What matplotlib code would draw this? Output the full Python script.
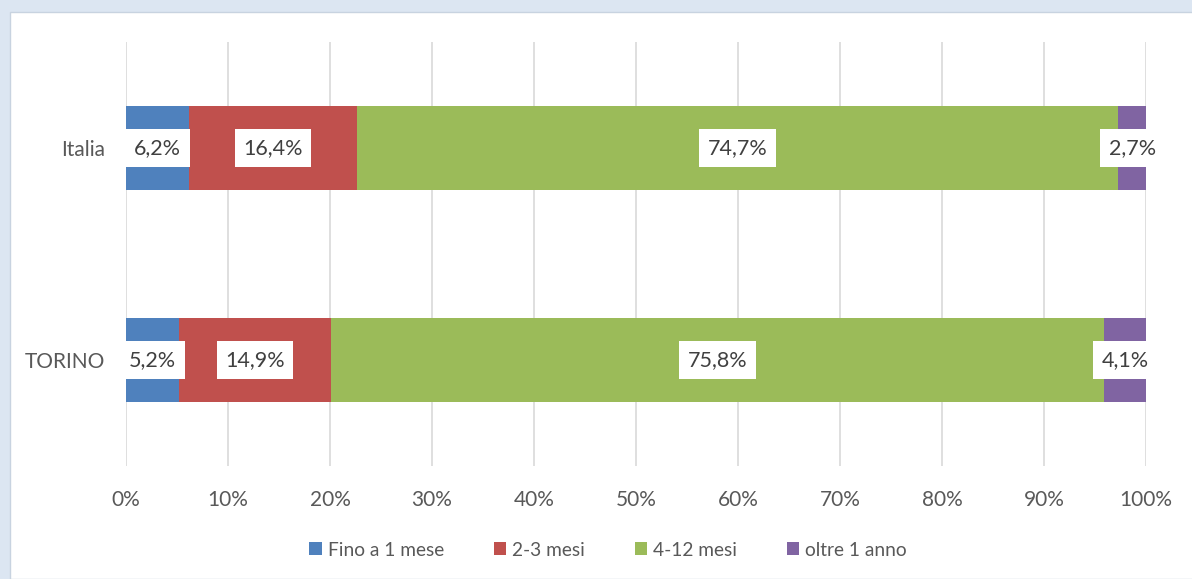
import numpy as np
import matplotlib.pyplot as plt
from matplotlib.patches import Rectangle
from matplotlib.ticker import FuncFormatter

plt.rcParams['font.family'] = ['Lato', 'DejaVu Sans']

# ---------------- dati ----------------
CATEGORIES = ['TORINO', 'Italia']
SERIES = ['Fino a 1 mese', '2-3 mesi', '4-12 mesi', 'oltre 1 anno']
VALUES = [
    [5.2, 6.2],
    [14.9, 16.4],
    [75.8, 74.7],
    [4.1, 2.7],
]
COLORS = ['#4f81bd', '#c0504d', '#9bbb59', '#8064a2']
TICKS_X = [0, 10, 20, 30, 40, 50, 60, 70, 80, 90, 100]

TEXT_COLOR = '#595959'
GRID_COLOR = '#d9d9d9'

fig = plt.figure(figsize=(11.92, 5.79), dpi=100)
fig.patch.set_facecolor('#dce6f2')
# riquadro bianco del grafico
fig.patches.append(Rectangle((10 / 1192, 0), 1.0, 1 - 12 / 579,
                             transform=fig.transFigure, facecolor='white',
                             edgecolor='#c8d3e0', linewidth=1, zorder=-10))

ax = fig.add_axes([126 / 1192, 1 - 466 / 579, 1020 / 1192, 424 / 579])
ax.set_facecolor('none')

y = np.arange(len(CATEGORIES))
left = np.zeros(len(CATEGORIES))
for name, vals, color in zip(SERIES, VALUES, COLORS):
    vals = np.array(vals)
    ax.barh(y, vals, left=left, height=0.4, color=color, label=name, zorder=2)
    for yi, li, v in zip(y, left, vals):
        ax.text(li + v / 2, yi, f'{v:.1f}%'.replace('.', ','), ha='center', va='center',
                fontsize=15.5, color='#404040', zorder=3,
                bbox=dict(boxstyle='square,pad=0.4', facecolor='white', edgecolor='none'))
    left = left + vals

ax.set_xlim(0, 100)
ax.set_ylim(-0.5, 1.5)
ax.set_xticks(TICKS_X)
ax.xaxis.set_major_formatter(FuncFormatter(lambda v, p: f'{v:.0f}%'))
ax.set_yticks(y)
ax.set_yticklabels(CATEGORIES)
ax.tick_params(axis='both', length=0, labelsize=15, colors=TEXT_COLOR)
ax.tick_params(axis='x', pad=17)
ax.tick_params(axis='y', pad=15)
ax.grid(axis='x', color=GRID_COLOR, linewidth=1.2, zorder=0)
ax.set_axisbelow(True)
for s in ax.spines.values():
    s.set_visible(False)

leg = fig.legend(loc='center', bbox_to_anchor=(0.51, 1 - 550 / 579), ncol=4, frameon=False,
                 fontsize=13.8, handlelength=0.65, handleheight=0.65, handletextpad=0.3,
                 columnspacing=2.6)
for t in leg.get_texts():
    t.set_color(TEXT_COLOR)

fig.savefig('out.png', dpi=100, facecolor=fig.get_facecolor())
